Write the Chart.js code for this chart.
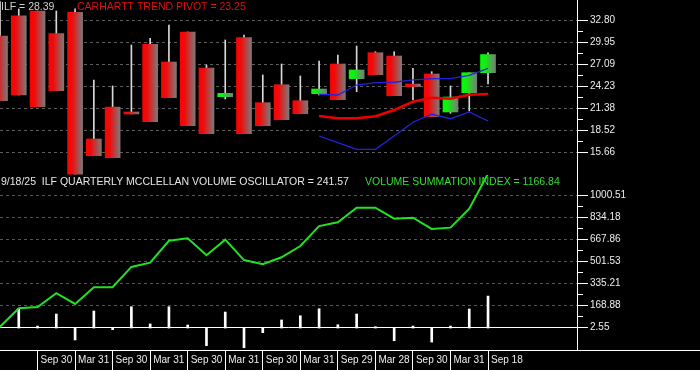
<!DOCTYPE html>
<html>
<head>
<meta charset="utf-8">
<title>ILF quarterly - McClellan volume</title>
<script src="https://cdn.jsdelivr.net/npm/chart.js@4.4.1/dist/chart.umd.min.js"></script>
<style>
  html, body { margin: 0; padding: 0; background: #000; }
  canvas { display: block; }
</style>
</head>
<body>
<canvas id="chart" width="700" height="370"></canvas>
<script>
// quarterly candles, index 0 = Q1 2019 ... 26 = Q3 2025 (Sep 18)
const opens  = [30.81, 33.45, 34.06, 31.11, 33.89, 17.39, 21.56, 20.91, 29.73, 27.42, 31.33, 26.64, 22.90, 30.59,
                22.12, 24.46, 22.38, 23.29, 27.16, 25.25, 28.63, 28.20, 24.55, 25.86, 20.91, 23.42, 26.03];
const highs  = [35.30, 34.32, 34.06, 34.06, 34.36, 25.07, 24.30, 29.64, 30.51, 32.24, 31.33, 27.03, 30.29, 30.94,
                25.73, 27.16, 25.60, 27.55, 28.33, 29.50, 28.76, 28.76, 26.60, 26.16, 24.30, 26.03, 28.63];
const lows   = [22.38, 23.12, 21.60, 23.68, 12.80, 15.21, 14.95, 20.65, 19.64, 22.77, 19.12, 18.08, 22.60, 18.08,
                19.12, 19.90, 20.69, 23.12, 22.51, 23.55, 25.77, 23.03, 22.47, 20.30, 20.74, 21.04, 24.55];
const closes = [22.38, 23.12, 21.60, 23.68, 12.80, 15.21, 14.95, 20.65, 19.64, 22.77, 19.12, 18.08, 23.34, 18.08,
                19.12, 19.90, 20.69, 23.90, 22.51, 26.38, 25.77, 23.03, 24.20, 20.30, 22.86, 26.03, 28.39];

// trend pivot + bands start at candle 17
const bandStart = 17;
const upperBand = [23.21, 23.12, 24.42, 24.72, 24.78, 25.08, 25.25, 25.25, 25.69, 26.60];
const pivotLine = [20.39, 20.09, 20.09, 20.35, 21.17, 22.25, 22.77, 22.64, 23.16, 23.25];
const lowerBand = [17.78, 16.91, 16.05, 16.05, 17.78, 19.57, 20.61, 20.03, 20.91, 19.73];

// lower panel
const vsi = [10, 149, 159, 263, 182, 308, 308, 462, 494, 660, 679, 550, 668, 514,
             482, 535, 620, 771, 799, 910, 910, 827, 834, 749, 759, 902, 1166.84];
const oscillator = [null, 149, 15, 106, -90, 129, -12, 161, 31, 161, 23, -133, 121, -149,
                    -35, 61, 93, 146, 25, 106, 10, -96, 15, -106, 15, 144, 241.57];

const dateTicks  = [2, 4, 6, 8, 10, 12, 14, 16, 18, 20, 22, 24, 26];
const dateLabels = ["Sep 30", "Mar 31", "Sep 30", "Mar 31", "Sep 30", "Mar 31", "Sep 30",
                    "Mar 31", "Sep 29", "Mar 28", "Sep 30", "Mar 31", "Sep 18"];

const priceTicks = [15.66, 18.52, 21.38, 24.23, 27.09, 29.95, 32.80];
const priceMinor = [17.09, 19.95, 22.80, 25.66, 28.52, 31.38];
const volTicks   = [2.55, 168.88, 335.21, 501.53, 667.86, 834.18, 1000.51];
const volMinor   = [85.72, 252.05, 418.37, 584.70, 751.02, 917.35];

Chart.defaults.font.family = '"Liberation Sans", Arial, sans-serif';

const pts = (arr, start) => arr.map((v, i) => ({ x: i + (start || 0), y: v }));

// red/green fading to gray, left to right inside each body
function candleFill(ctx) {
  const i = ctx.dataIndex;
  const up = closes[i] > opens[i];
  const solid = up ? '#22dd22' : '#dd1111';
  const xs = ctx.chart.scales.x;
  if (!xs || ctx.type !== 'data') return solid;
  const px = xs.getPixelForValue(i);
  if (!isFinite(px)) return solid;
  const g = ctx.chart.ctx.createLinearGradient(px - 7.5, 0, px + 7.5, 0);
  g.addColorStop(0, up ? '#00ff00' : '#ff0000');
  g.addColorStop(0.3, up ? '#12ee12' : '#ee0c0c');
  g.addColorStop(1, '#7a7a7a');
  return g;
}

const isMajor = (list, v) => list.some(t => Math.abs(t - v) < 1e-6);

// fixed axis box, no label overhang padding
function fixBox(size) {
  return a => {
    if (a.isHorizontal()) a.height = size; else a.width = size;
    a.paddingTop = 0; a.paddingBottom = 0; a.paddingLeft = 0; a.paddingRight = 0;
  };
}

const overlay = {
  id: 'overlay',
  beforeDatasetsDraw(chart) {
    const c = chart.ctx;
    c.save();
    c.font = '10.5px "Liberation Sans", Arial, sans-serif';
    c.textBaseline = 'middle';
    c.fillStyle = '#e6e6e6';
    c.fillText('9/18/25  ILF QUARTERLY MCCLELLAN VOLUME OSCILLATOR = 241.57', 1, 182);
    c.fillStyle = '#33dd33';
    c.fillText('VOLUME SUMMATION INDEX = 1166.84', 365, 182);
    c.restore();
  },
  afterDatasetsDraw(chart) {
    const c = chart.ctx;
    c.save();
    c.font = '10.5px "Liberation Sans", Arial, sans-serif';
    c.textBaseline = 'middle';
    c.fillStyle = '#d0d0d0';
    c.fillText('ILF = 28.39', 1, 7);
    c.fillStyle = '#dd1111';
    c.fillText('CARHARTT TREND PIVOT = 23.25', 77, 7);
    c.restore();
  },
  afterDraw(chart) {
    const c = chart.ctx;
    c.save();
    c.strokeStyle = '#fff';
    c.lineWidth = 1;
    c.beginPath();
    c.moveTo(0, chart.chartArea.bottom + 0.5);
    c.lineTo(chart.width, chart.chartArea.bottom + 0.5);
    c.stroke();
    c.restore();
  }
};

new Chart(document.getElementById('chart'), {
  type: 'bar',
  data: {
    datasets: [
      {
        type: 'line', data: pts(upperBand, bandStart), yAxisID: 'y',
        borderColor: '#2222dd', borderWidth: 1.3, pointRadius: 0, tension: 0, order: 1
      },
      {
        type: 'line', data: pts(pivotLine, bandStart), yAxisID: 'y',
        borderColor: '#ee0000', borderWidth: 2.5, pointRadius: 0, tension: 0, order: 1
      },
      {
        type: 'line', data: pts(lowerBand, bandStart), yAxisID: 'y',
        borderColor: '#2222dd', borderWidth: 1.3, pointRadius: 0, tension: 0, order: 1
      },
      {
        data: opens.map((o, i) => ({ x: i, y: [o, closes[i]] })), yAxisID: 'y',
        backgroundColor: candleFill, borderWidth: 0, barThickness: 15, grouped: false, order: 2
      },
      {
        data: lows.map((l, i) => ({ x: i, y: [l, highs[i]] })), yAxisID: 'y',
        backgroundColor: '#d8d8d8', borderWidth: 0, barThickness: 1, grouped: false, order: 3
      },
      {
        type: 'line', data: pts(vsi), yAxisID: 'y2',
        borderColor: '#22e022', borderWidth: 2, pointRadius: 0, tension: 0, order: 1
      },
      {
        data: pts(oscillator), yAxisID: 'y2',
        backgroundColor: '#ffffff', borderWidth: 0, barThickness: 2, grouped: false, order: 3
      }
    ]
  },
  options: {
    responsive: false,
    animation: false,
    devicePixelRatio: 1,
    events: [],
    layout: { padding: 0 },
    plugins: { legend: { display: false }, tooltip: { enabled: false } },
    scales: {
      x: {
        type: 'linear', min: 0, max: 30.74, bounds: 'data', offset: false,
        afterBuildTicks: a => { a.ticks = dateTicks.map(v => ({ value: v })); },
        afterFit: fixBox(20),
        grid: { drawOnChartArea: false, offset: false, tickLength: 20, tickColor: '#ffffff' },
        border: { color: '#ffffff' },
        ticks: {
          align: 'start', labelOffset: 3, padding: -16, autoSkip: false, maxRotation: 0,
          color: '#eeeeee', font: { size: 10 },
          callback: v => dateLabels[dateTicks.indexOf(v)] || ''
        }
      },
      y: {
        type: 'linear', position: 'right', stack: 'panels', stackWeight: 1,
        min: 12.70, max: 35.496, bounds: 'data',
        afterBuildTicks: a => {
          a.ticks = priceTicks.concat(priceMinor).sort((p, q) => p - q).map(v => ({ value: v }));
        },
        afterFit: fixBox(123),
        grid: {
          color: c => (c.tick && isMajor(priceTicks, c.tick.value)) ? '#5e5e5e' : 'rgba(0,0,0,0)',
          tickColor: '#ffffff', tickLength: 11,
          tickBorderDash: c => (c.tick && isMajor(priceTicks, c.tick.value)) ? [] : [5, 40]
        },
        border: { color: '#ffffff', dash: [3, 3] },
        ticks: {
          color: '#eeeeee', font: { size: 10 }, padding: 2, autoSkip: false,
          callback: v => isMajor(priceTicks, v) ? v.toFixed(2) : ''
        }
      },
      y2: {
        type: 'linear', position: 'right', stack: 'panels', stackWeight: 1,
        min: -166.0, max: 1157.0, bounds: 'data',
        afterBuildTicks: a => {
          a.ticks = volTicks.concat(volMinor).sort((p, q) => p - q).map(v => ({ value: v }));
        },
        afterFit: fixBox(123),
        grid: {
          color: c => {
            if (!c.tick) return 'rgba(0,0,0,0)';
            if (c.tick.value === 2.55) return '#ffffff';
            return isMajor(volTicks, c.tick.value) ? '#5a5256' : 'rgba(0,0,0,0)';
          },
          tickColor: '#ffffff', tickLength: 11,
          tickBorderDash: c => (c.tick && isMajor(volTicks, c.tick.value)) ? [] : [5, 40]
        },
        border: {
          color: '#ffffff',
          dash: c => (c.tick && c.tick.value === 2.55) ? [] : [3, 3]
        },
        ticks: {
          color: '#eeeeee', font: { size: 10 }, padding: 2, autoSkip: false,
          callback: v => isMajor(volTicks, v) ? v.toFixed(2) : ''
        }
      }
    }
  },
  plugins: [overlay]
});
</script>
</body>
</html>
